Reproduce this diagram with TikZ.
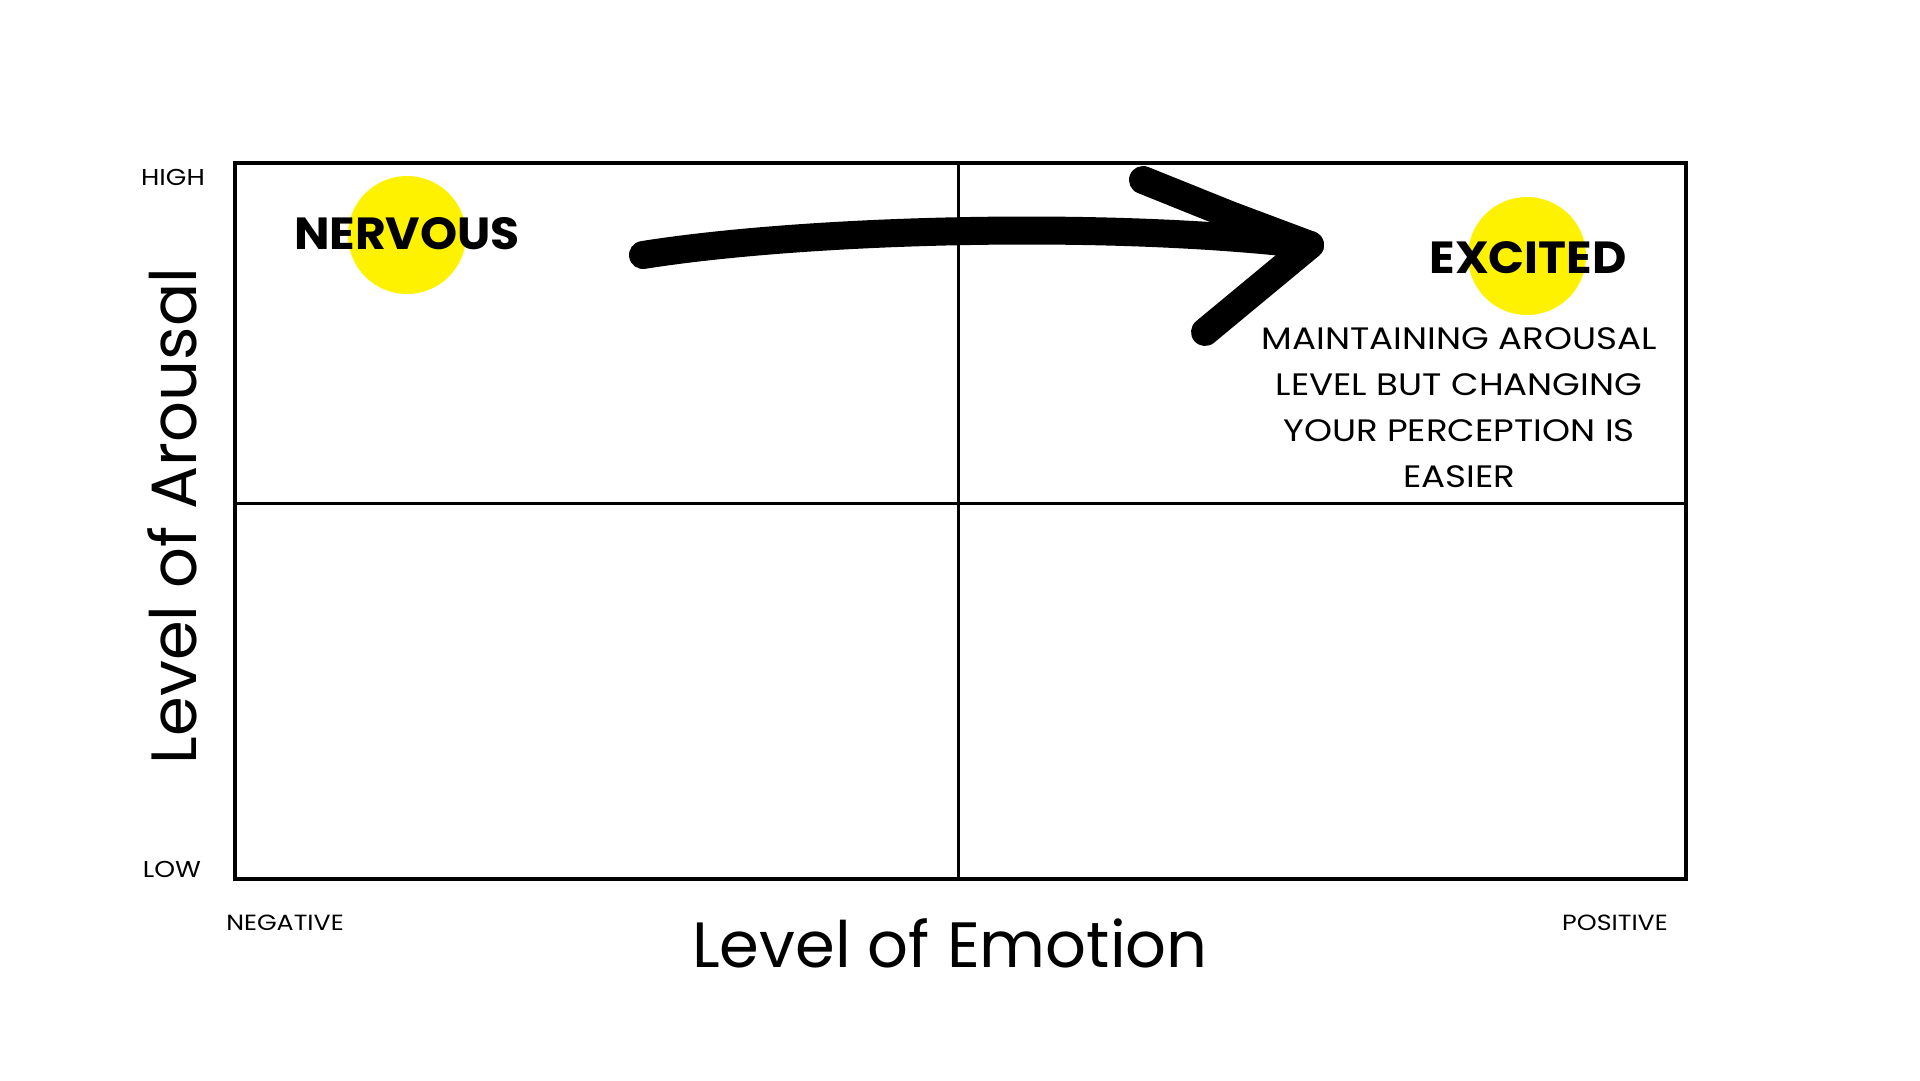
\documentclass[tikz,border=0pt]{standalone}
\usepackage{fontspec}
\setmainfont{Poppins}
\newfontfamily\widefont[FakeStretch=1.15]{Poppins}
\newfontfamily\emofont[FakeStretch=1.05]{Poppins}
\begin{document}
\begin{tikzpicture}[x=1pt,y=-1pt,
  boxline/.style={line width=4pt},
  divline/.style={line width=3pt},
  spot/.style={circle,fill=yellow,minimum size=118pt,inner sep=0pt},
  emo/.style={font=\emofont\fontsize{45}{48}\selectfont\bfseries,inner sep=0pt},
  tick/.style={font=\widefont\fontsize{23}{26}\selectfont,inner sep=0pt},
  axis/.style={font=\fontsize{64}{70}\selectfont,inner sep=0pt},
  brush/.style={line width=28pt,line cap=round,line join=round}]
\path[fill=white,use as bounding box] (0,0) rectangle (1920,1080);
% quadrants
\draw[divline] (958,163) -- (958,879);
\draw[divline] (235,503) -- (1686,503);
\draw[boxline] (235,163) rectangle (1686,879);
% spots
\node[spot] (s1) at (407,235) {};
\node[spot] (s2) at (1527,256) {};
\node[emo,anchor=base] (nervous) at (407,249) {NERVOUS};
\node[emo,anchor=base] (excited) at (1528,273) {EXCITED};
\node[anchor=north,align=center,inner sep=0pt,font=\widefont\fontsize{31}{46}\selectfont] (note) at (1459,327)
  {MAINTAINING AROUSAL\\LEVEL BUT CHANGING\\YOUR PERCEPTION IS\\EASIER};
% arrow
\coordinate (a0) at (643,255);
\coordinate (tip) at (1310,245);
\coordinate (u0) at (1143,180);
\coordinate (l0) at (1205,332);
\draw[brush] (a0) .. controls (800,230) and (1100,220) .. (tip);
\draw[brush] (u0) -- (1230,215) -- (tip) -- (l0);
% labels
\node[tick,anchor=base] (high) at (173,185) {HIGH};
\node[tick,anchor=base] (low) at (172,877) {LOW};
\node[tick,anchor=base,font=\widefont\fontsize{22}{24}\selectfont] (neg) at (285,930) {NEGATIVE};
\node[tick,anchor=base,font=\widefont\fontsize{22}{24}\selectfont] (pos) at (1615,930) {POSITIVE};
\node[axis,anchor=base] (emotion) at (950,967) {Level of Emotion};
\node[axis,anchor=base,rotate=90] (arousal) at (196,516) {Level of Arousal};
\end{tikzpicture}
\end{document}
